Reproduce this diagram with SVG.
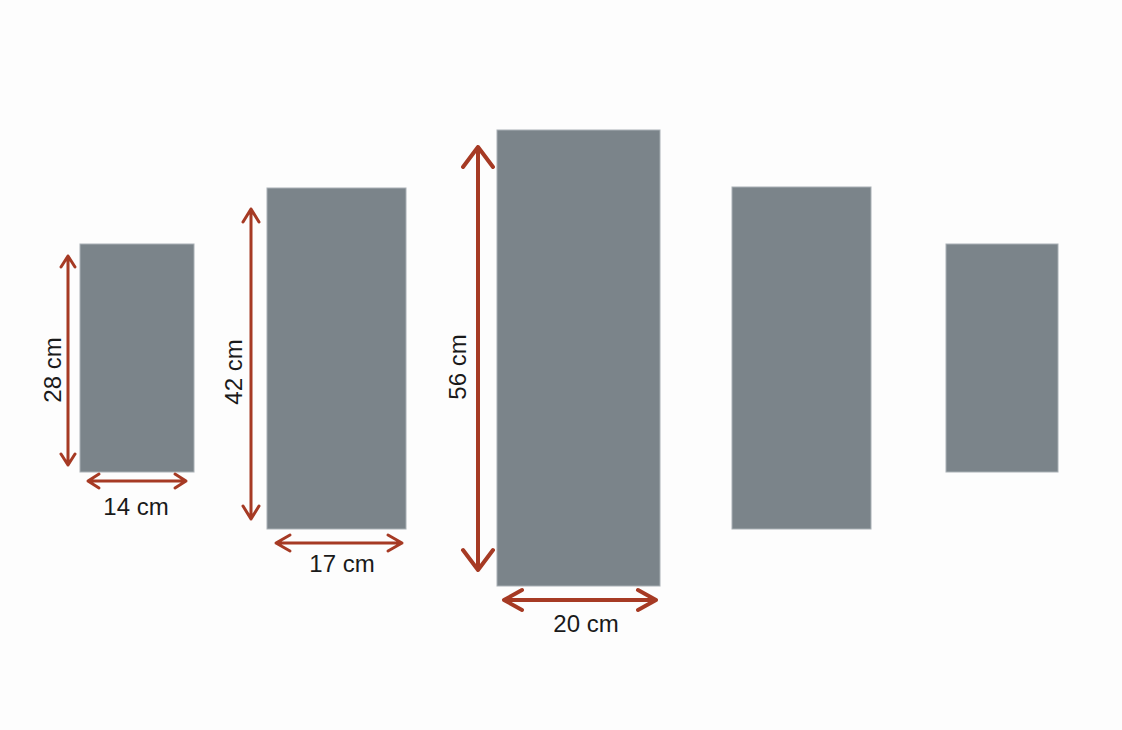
<svg xmlns="http://www.w3.org/2000/svg" width="1122" height="730" viewBox="0 0 1122 730">
<style>
.panel{fill:#7b848a;stroke:#a9b0b5;stroke-width:1}
.dim{stroke:#a63a24;fill:none;stroke-linecap:round;stroke-linejoin:round}
.lbl{font-family:"Liberation Sans",Arial,sans-serif;font-size:24px;fill:#1a1a1a;text-anchor:middle}
</style>
<rect width="1122" height="730" fill="#fdfdfd"/>
<g id="panel1"><rect class="panel" x="80" y="244" width="114" height="228"/></g>
<g id="panel2"><rect class="panel" x="267" y="188" width="139" height="341"/></g>
<g id="panel3"><rect class="panel" x="497" y="130" width="163" height="456"/></g>
<g id="panel4"><rect class="panel" x="732" y="187" width="139" height="342"/></g>
<g id="panel5"><rect class="panel" x="946" y="244" width="112" height="228"/></g>
<g id="connectors">
<path class="dim" stroke-width="3" d="M68 256 V465 M61 267 L68 256 L75 267 M61 454 L68 465 L75 454"/>
<path class="dim" stroke-width="3" d="M88 481 H186 M99 474 L88 481 L99 488 M175 474 L186 481 L175 488"/>
<path class="dim" stroke-width="3" d="M251 209 V519 M243 222 L251 209 L259 222 M243 506 L251 519 L259 506"/>
<path class="dim" stroke-width="3" d="M276 543 H402 M290 535 L276 543 L290 551 M388 535 L402 543 L388 551"/>
<path class="dim" stroke-width="4" d="M478 147 V570 M463 167 L478 147 L493 167 M463 550 L478 570 L493 550"/>
<path class="dim" stroke-width="4" d="M504 600 H656 M522 590 L504 600 L522 610 M638 590 L656 600 L638 610"/>
</g>
<g id="labels">
<text class="lbl" x="136" y="515">14 cm</text>
<text class="lbl" x="342" y="572">17 cm</text>
<text class="lbl" x="586" y="632">20 cm</text>
<text class="lbl" transform="translate(61 370) rotate(-90)">28 cm</text>
<text class="lbl" transform="translate(242 372) rotate(-90)">42 cm</text>
<text class="lbl" transform="translate(466 367) rotate(-90)">56 cm</text>
</g>
</svg>
